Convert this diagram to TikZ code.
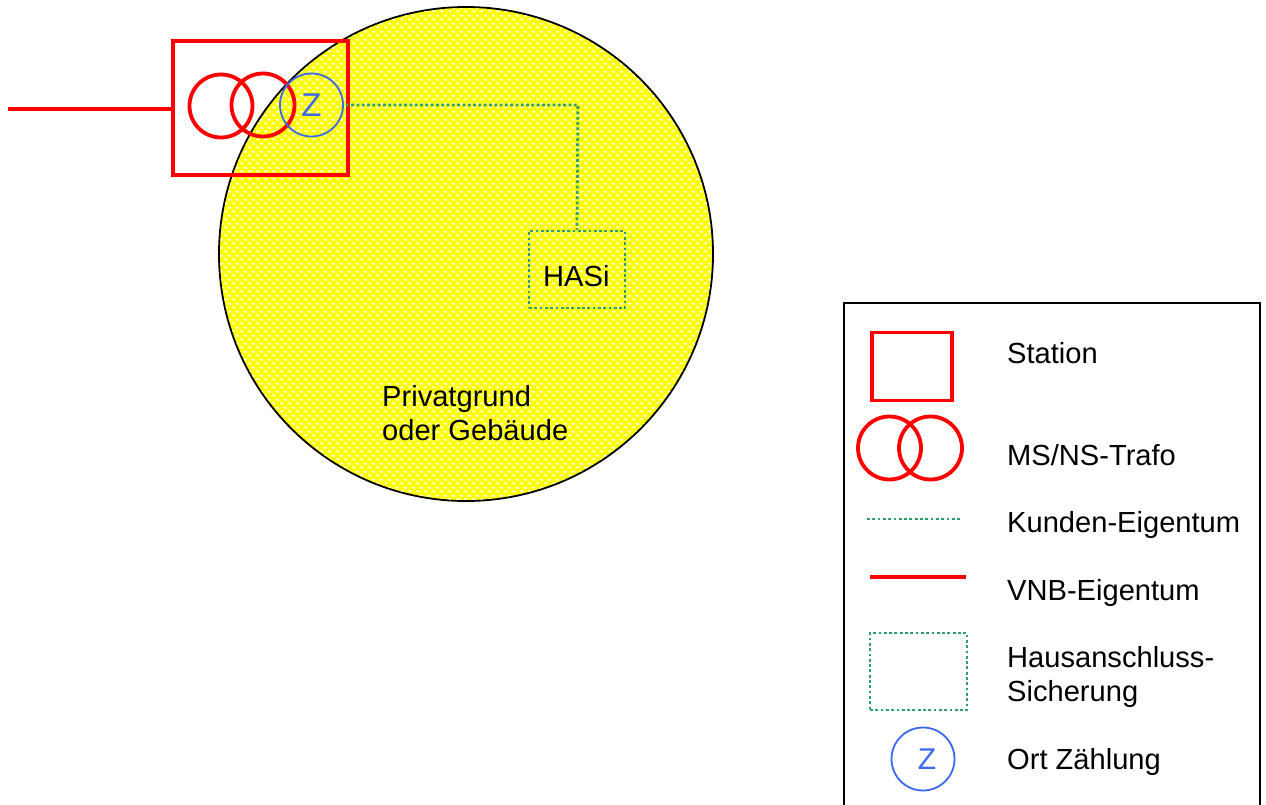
\documentclass[tikz,border=0pt]{standalone}
\usepackage{fontspec}
\setmainfont{Liberation Sans}
\usetikzlibrary{patterns}
\pgfdeclarepatternformonly{wovendots}{\pgfpoint{0pt}{0pt}}{\pgfpoint{8pt}{8pt}}{\pgfpoint{8pt}{8pt}}{%
  \pgfpathrectangle{\pgfpoint{0.4pt}{1pt}}{\pgfpoint{3.2pt}{2pt}}%
  \pgfpathrectangle{\pgfpoint{4.4pt}{5pt}}{\pgfpoint{3.2pt}{2pt}}%
  \pgfusepath{fill}}
\definecolor{vnbred}{HTML}{FF0000}
\definecolor{kundengreen}{HTML}{2E9F6F}
\definecolor{zblue}{HTML}{3B68F0}
\definecolor{grundyellow}{HTML}{FFFF00}
\tikzset{
  x=1pt,y=-1pt,
  label text/.style={anchor=base west,inner sep=0pt,font=\fontsize{29.1pt}{34pt}\selectfont,text=black},
  grund/.style={circle,draw=black,line width=1.8pt,fill=grundyellow,inner sep=0pt,minimum size=494pt},
  grundpat/.style={circle,pattern=wovendots,pattern color=white,inner sep=0pt,minimum size=492pt},
  stationbox/.style={rectangle,draw=vnbred,line width=3.8pt,inner sep=0pt},
  trafo/.style={circle,draw=vnbred,line width=3.8pt,inner sep=0pt,minimum size=63pt},
  zaehler/.style={circle,draw=zblue,line width=1.8pt,inner sep=0pt,minimum size=63pt,text=zblue},
  kundenline/.style={draw=kundengreen,line width=2.8pt,dash pattern=on 2.8pt off 2.5pt},
  kundenbox/.style={rectangle,kundenline,inner sep=0pt},
  vnbline/.style={draw=vnbred,line width=3.8pt},
}
\begin{document}
\begin{tikzpicture}
\useasboundingbox (0,0) rectangle (1266,805);
\clip (0,0) rectangle (1266,805);
% Privatgrund
\node[grund] (grundstueck) at (466,254) {};
\node[grundpat] (grundmuster) at (466,254) {};
% Station
\node[stationbox,minimum width=175pt,minimum height=134pt] (station) at (260.5,108) {};
\coordinate (einspeisung) at (8,108.7);
\draw[vnbline] (einspeisung) -- (einspeisung -| station.west);
\node[trafo] (ms) at (221,106) {};
\node[trafo] (ns) at (263,105) {};
\node[zaehler,font=\fontsize{33pt}{33pt}\selectfont] (z) at (311.5,105) {Z};
% HASi
\node[kundenbox,minimum width=96pt,minimum height=77pt] (hasi) at (577,269.5) {};
\node[label text] (hasitext) at (543,286) {HASi};
\draw[kundenline] (z.east) ++(2,0) -- ++(232,0) -- (hasi.north);
\node[label text] (pg1) at (382,406) {Privatgrund};
\node[label text] (pg2) at (382,440) {oder Gebäude};
% Legend
\node[rectangle,draw=black,line width=2pt,inner sep=0pt,minimum width=416pt,minimum height=540pt,anchor=north west] (legende) at (842.5,301.5) {};
\node[stationbox,minimum width=80pt,minimum height=68pt] (lstation) at (912,366.5) {};
\node[label text] (t1) at (1007,363) {Station};
\node[trafo] (lms) at (889.5,448) {};
\node[trafo] (lns) at (930.5,448) {};
\node[label text] (t2) at (1007,465) {MS/NS-Trafo};
\coordinate (lk1) at (867,519);
\coordinate (lk2) at (960,519);
\draw[kundenline] (lk1) -- (lk2);
\node[label text] (t3) at (1007,532) {Kunden-Eigentum};
\coordinate (lv1) at (870,577);
\coordinate (lv2) at (966,577);
\draw[vnbline] (lv1) -- (lv2);
\node[label text] (t4) at (1007,600) {VNB-Eigentum};
\node[kundenbox,minimum width=97pt,minimum height=77pt] (lhasi) at (918.5,671.5) {};
\node[label text] (t5) at (1007,667) {Hausanschluss-};
\node[label text] (t6) at (1007,701) {Sicherung};
\node[zaehler,font=\fontsize{30pt}{30pt}\selectfont] (lz) at (923,759) {\hspace*{8pt}Z};
\node[label text] (t7) at (1007,769) {Ort Zählung};
\end{tikzpicture}
\end{document}
